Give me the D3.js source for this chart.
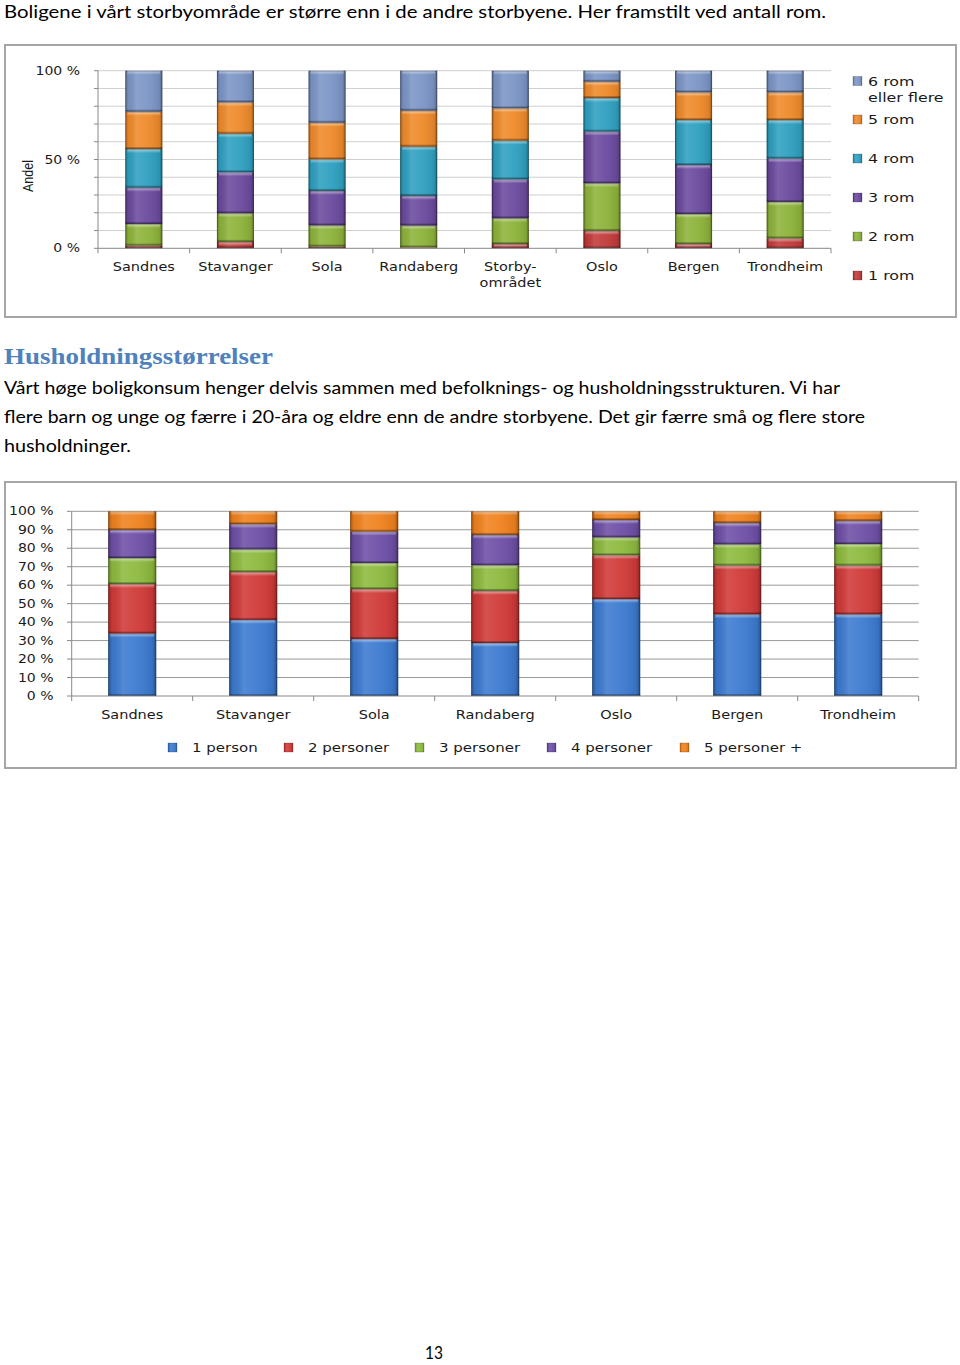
<!DOCTYPE html>
<html><head><meta charset="utf-8">
<script src="https://cdn.jsdelivr.net/npm/d3@7"></script>
<style>body{margin:0;background:#fff}svg{display:block}</style>
</head><body>
<svg id="page" width="960" height="1365"></svg>
<script>
// ---------- data ----------
const roomCities = ["Sandnes","Stavanger","Sola","Randaberg","Storby-området","Oslo","Bergen","Trondheim"];
const roomSeriesNames = ["1 rom","2 rom","3 rom","4 rom","5 rom","6 rom eller flere"];
const rom1 = [1.5,3.6,1.0,0.5,2.4,9.8,2.4,5.6];
const rom2 = [12.2,16.1,11.9,12.3,14.5,26.8,16.9,20.5];
const rom3 = [20.4,23.1,19.4,16.7,21.9,29.1,27.6,24.4];
const rom4 = [21.8,21.7,17.8,27.7,21.8,18.9,25.3,21.7];
const rom5 = [21.0,17.7,20.6,20.3,18.2,9.2,15.6,15.6];
const rom6 = [23.1,17.8,29.3,22.5,21.2,6.2,12.2,12.2];
const roomTicks = [0,50,100];

const hhCities = ["Sandnes","Stavanger","Sola","Randaberg","Oslo","Bergen","Trondheim"];
const hhSeriesNames = ["1 person","2 personer","3 personer","4 personer","5 personer +"];
const pers1 = [33.8,41.2,30.9,28.7,52.5,44.2,44.2];
const pers2 = [26.8,25.9,27.0,28.2,23.7,26.4,26.4];
const pers3 = [14.1,12.3,14.1,13.9,9.7,11.5,11.7];
const pers4 = [15.2,13.6,17.0,16.4,9.4,11.6,12.5];
const pers5 = [10.1,7.0,11.0,12.8,4.7,6.3,5.2];
const hhTicks = [0,10,20,30,40,50,60,70,80,90,100];

const roomColors = ["#c23a3a","#8db33a","#6b4a9e","#2ea0c0","#ef8a2a","#7c95c6"];
const hhColors = ["#3c7ad0","#d03a38","#8dba3e","#6e4fa6","#f0821e"];

const svg = d3.select("#page");
const bodyFont = "Lato, 'Open Sans', sans-serif";
const chartFont = "'DejaVu Sans', Verdana, sans-serif";

// ---------- defs for bevel ----------
const defs = svg.append("defs");
const hg = defs.append("linearGradient").attr("id","bevelH").attr("x1",0).attr("x2",1).attr("y1",0).attr("y2",0);
[[0,"#000",0.30],[0.08,"#000",0.05],[0.3,"#fff",0.12],[0.6,"#fff",0.05],[0.92,"#000",0.08],[1,"#000",0.35]]
  .forEach(([o,c,a])=>hg.append("stop").attr("offset",o).attr("stop-color",c).attr("stop-opacity",a));
const vg = defs.append("linearGradient").attr("id","bevelV").attr("x1",0).attr("x2",0).attr("y1",0).attr("y2",1);
[[0,"#fff",0.55],[1,"#fff",0.0]].forEach(([o,c,a])=>vg.append("stop").attr("offset",o).attr("stop-color",c).attr("stop-opacity",a));

// ---------- text helpers ----------
function fitText(g, str, x, y, width, size, family, weight, color){
  g.append("text").attr("x",x).attr("y",y).attr("font-family",family).attr("font-size",size)
    .attr("font-weight",weight||"normal").attr("fill",color||"#000")
    .attr("textLength",width).attr("lengthAdjust","spacingAndGlyphs").text(str);
}
function stretchText(g, str, x, y, size, sx, anchor, color){
  g.append("text").attr("transform",`translate(${x},${y}) scale(${sx},1)`)
    .attr("font-family",chartFont).attr("font-size",size).attr("text-anchor",anchor||"start")
    .attr("fill",color||"#1a1a1a").text(str);
}

// ---------- page text ----------
fitText(svg,"Boligene i vårt storbyområde er større enn i de andre storbyene. Her framstilt ved antall rom.",4,18,822,18,bodyFont);
fitText(svg,"Husholdningsstørrelser",4,364,269,23.5,"'Liberation Serif', 'DejaVu Serif', serif","bold","#4f81bd");
fitText(svg,"Vårt høge boligkonsum henger delvis sammen med befolknings- og husholdningsstrukturen. Vi har",4,394,836,18,bodyFont);
fitText(svg,"flere barn og unge og færre i 20-åra og eldre enn de andre storbyene. Det gir færre små og flere store",4,423,861,18,bodyFont);
fitText(svg,"husholdninger.",4,452,127,18,bodyFont);
fitText(svg,"13",425,1359,18,17,bodyFont);

// ---------- bar drawing ----------
function drawBars(g, stackData, x, y, cats, colors, bw){
  stackData.forEach((layer,i)=>{
    layer.forEach((d,j)=>{
      const x0 = x(cats[j]) + (x.bandwidth()-bw)/2;
      const y1 = y(d[1]), y0 = y(d[0]);
      const h = y0 - y1;
      if (h <= 0) return;
      const sg = g.append("g");
      sg.append("rect").attr("x",x0).attr("y",y1).attr("width",bw).attr("height",h)
        .attr("fill",colors[i]);
      sg.append("rect").attr("x",x0).attr("y",y1).attr("width",bw).attr("height",h)
        .attr("fill","url(#bevelH)");
      sg.append("rect").attr("x",x0+2).attr("y",y1).attr("width",bw-4).attr("height",Math.min(4,h))
        .attr("fill","url(#bevelV)");
      sg.append("rect").attr("x",x0).attr("y",y0-Math.min(2,h)).attr("width",bw).attr("height",Math.min(2,h))
        .attr("fill","#000").attr("opacity",0.25);
      sg.append("rect").attr("x",x0+0.5).attr("y",y1+0.5).attr("width",bw-1).attr("height",Math.max(0,h-1))
        .attr("fill","none").attr("stroke","#000").attr("stroke-opacity",0.25).attr("stroke-width",1);
    });
  });
}

// ---------- chart 1: rooms ----------
{
  svg.append("rect").attr("x",5).attr("y",45).attr("width",951).attr("height",272)
    .attr("fill","#fff").attr("stroke","#a6a6a6").attr("stroke-width",2);
  const g = svg.append("g");
  const x = d3.scaleBand().domain(roomCities).range([98,831]);
  const y = d3.scaleLinear().domain([0,100]).range([248.3,70.7]);
  g.selectAll("line.grid").data(d3.range(10,101,10)).join("line")
    .attr("x1",98).attr("x2",831).attr("y1",d=>y(d)).attr("y2",d=>y(d))
    .attr("stroke","#cfcfcf").attr("stroke-width",1);
  const stack = d3.stack().keys(d3.range(6)).value((d,k)=>d[k]);
  const rows = roomCities.map((c,j)=>[rom1[j],rom2[j],rom3[j],rom4[j],rom5[j],rom6[j]]);
  drawBars(g, stack(rows), x, y, roomCities, roomColors, 37);
  g.append("line").attr("x1",98).attr("x2",98).attr("y1",y(100)).attr("y2",y(0)).attr("stroke","#888");
  g.append("line").attr("x1",98).attr("x2",831).attr("y1",y(0)).attr("y2",y(0)).attr("stroke","#888");
  g.selectAll("line.ytk").data(d3.range(0,101,10)).join("line")
    .attr("x1",94).attr("x2",98).attr("y1",d=>y(d)).attr("y2",d=>y(d)).attr("stroke","#888");
  const bounds = roomCities.map(c=>x(c)).concat([x.range()[1]]);
  g.selectAll("line.xtk").data(bounds).join("line")
    .attr("x1",d=>d).attr("x2",d=>d).attr("y1",y(0)).attr("y2",y(0)+5).attr("stroke","#888");
  roomTicks.forEach(t=>stretchText(g, t+" %", 80, y(t)+4, 11.5, 1.22, "end"));
  roomCities.forEach(c=>{
    const cx = x(c)+x.bandwidth()/2;
    const parts = c.includes("-") ? [c.slice(0,c.indexOf("-")+1), c.slice(c.indexOf("-")+1)] : [c];
    parts.forEach((p,k)=>stretchText(g, p, cx, 271+k*15.5, 12.5, 1.16, "middle"));
  });
  g.append("text").attr("transform","translate(33,176) rotate(-90)")
    .attr("font-family","'Liberation Sans Narrow','Liberation Sans',Arial,sans-serif")
    .attr("font-size",15).attr("text-anchor","middle").attr("fill","#1a1a1a")
    .attr("textLength",32).attr("lengthAdjust","spacingAndGlyphs").text("Andel");
  const legY = [85.5,124,163,202,241,280];
  roomSeriesNames.slice().reverse().forEach((name,k)=>{
    const idx = roomSeriesNames.length-1-k;
    const ly = legY[k];
    g.append("rect").attr("x",853).attr("y",ly-9).attr("width",9).attr("height",9)
      .attr("fill",roomColors[idx]);
    g.append("rect").attr("x",853).attr("y",ly-9).attr("width",9).attr("height",9)
      .attr("fill","url(#bevelH)").attr("stroke","#000").attr("stroke-opacity",0.2);
    if (name.startsWith("6 rom")) {
      stretchText(g,"6 rom",868,ly,13,1.22,"start");
      stretchText(g,"eller flere",868,ly+16.5,13,1.22,"start");
    } else stretchText(g,name,868,ly,13,1.22,"start");
  });
}

// ---------- chart 2: households ----------
{
  svg.append("rect").attr("x",5).attr("y",482).attr("width",951).attr("height",286)
    .attr("fill","#fff").attr("stroke","#a6a6a6").attr("stroke-width",2);
  const g = svg.append("g");
  const x = d3.scaleBand().domain(hhCities).range([71.7,918.7]);
  const y = d3.scaleLinear().domain([0,100]).range([696,511.3]);
  g.selectAll("line.grid").data(hhTicks.filter(t=>t>0)).join("line")
    .attr("x1",71.7).attr("x2",918.7).attr("y1",d=>y(d)).attr("y2",d=>y(d))
    .attr("stroke","#9a9a9a").attr("stroke-width",1);
  const rows = hhCities.map((c,j)=>[pers1[j],pers2[j],pers3[j],pers4[j],pers5[j]]);
  const stack = d3.stack().keys(d3.range(5)).value((d,k)=>d[k]);
  drawBars(g, stack(rows), x, y, hhCities, hhColors, 48);
  g.append("line").attr("x1",71.7).attr("x2",71.7).attr("y1",y(100)).attr("y2",y(0)).attr("stroke","#888");
  g.append("line").attr("x1",71.7).attr("x2",918.7).attr("y1",y(0)).attr("y2",y(0)).attr("stroke","#888");
  g.selectAll("line.ytk").data(hhTicks).join("line")
    .attr("x1",67).attr("x2",71.7).attr("y1",d=>y(d)).attr("y2",d=>y(d)).attr("stroke","#888");
  const bounds = hhCities.map(c=>x(c)).concat([x.range()[1]]);
  g.selectAll("line.xtk").data(bounds).join("line")
    .attr("x1",d=>d).attr("x2",d=>d).attr("y1",y(0)).attr("y2",y(0)+5).attr("stroke","#888");
  hhTicks.forEach(t=>stretchText(g, t+" %", 53.5, y(t)+4, 11.5, 1.22, "end"));
  hhCities.forEach(c=>stretchText(g, c, x(c)+x.bandwidth()/2, 718.5, 12.5, 1.16, "middle"));
  const legX = [168,284,415,547,680];
  hhSeriesNames.forEach((name,i)=>{
    g.append("rect").attr("x",legX[i]).attr("y",743).attr("width",9).attr("height",9).attr("fill",hhColors[i]);
    g.append("rect").attr("x",legX[i]).attr("y",743).attr("width",9).attr("height",9)
      .attr("fill","url(#bevelH)").attr("stroke","#000").attr("stroke-opacity",0.2);
    stretchText(g,name,legX[i]+24,752,12.5,1.2,"start");
  });
}
</script>
</body></html>
